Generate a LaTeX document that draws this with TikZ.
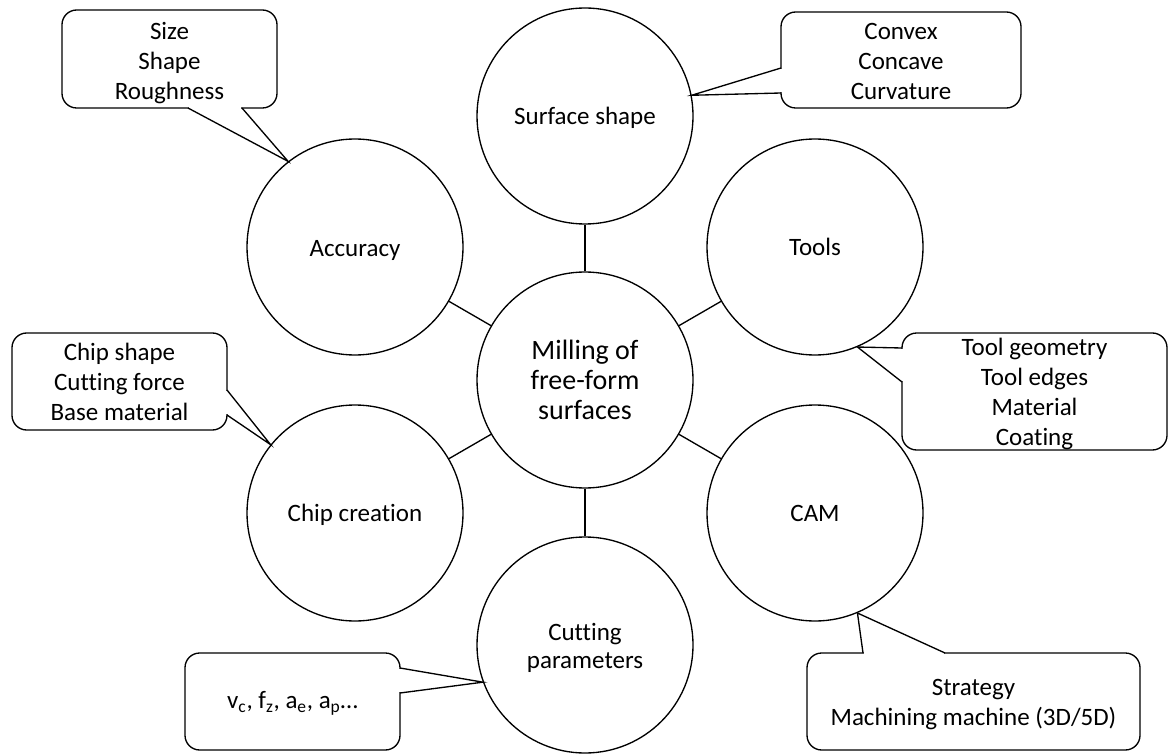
\documentclass[tikz,border=0pt]{standalone}
\usepackage{fontspec}
\setmainfont{Carlito}[Ligatures=NoCommon]
\newcommand\shiftdn[2]{\raisebox{-#1}[\height][\depth]{#2}}
\begin{document}
\begin{tikzpicture}[x=0.75pt,y=-0.75pt,
  bubble/.style={circle,draw=black,fill=white,line width=1pt,minimum size=162pt,inner sep=0pt,align=center,
    font=\fontsize{18.75}{22.5}\selectfont},
  note/.style={draw=black,fill=white,line width=1pt,rounded corners=11pt,inner sep=0pt,align=center,
    font=\fontsize{18.75}{22.5}\selectfont},
  link/.style={line width=1pt,draw=black},
  tail/.style={line width=1pt,draw=black,line join=miter}]
\useasboundingbox (0,0) rectangle (1169,755);

% circles
\node[bubble] (surf)  at (585,116) {\shiftdn{1.5pt}{Surface shape}};
\node[bubble] (acc)   at (355,247) {\shiftdn{2.25pt}{Accuracy}};
\node[bubble] (tools) at (815,247) {Tools};
\node[bubble,font=\fontsize{21}{22.5}\selectfont] (mid) at (585,380) {Milling of\\free-form\\surfaces};
\node[bubble] (chip)  at (355,513) {\shiftdn{1.5pt}{Chip creation}};
\node[bubble] (cam)   at (815,513) {CAM};
\node[bubble,font=\fontsize{18.75}{21}\selectfont] (cut) at (585,645) {\shiftdn{2.25pt}{Cutting}\\\shiftdn{2.25pt}{parameters}};

% connectors
\draw[link] (mid) -- (surf);
\draw[link] (mid) -- (acc);
\draw[link] (mid) -- (tools);
\draw[link] (mid) -- (chip);
\draw[link] (mid) -- (cam);
\draw[link] (mid) -- (cut);

% callout 1: accuracy
\node[note,minimum width=161.25pt,minimum height=73.5pt] (n1) at (169.5,59) {\shiftdn{3pt}{Size}\\\shiftdn{3pt}{Shape}\\\shiftdn{3pt}{Roughness}};
\coordinate (n1a) at (188,108); \coordinate (n1b) at (242,108);
\fill[white] (189,106) rectangle (241,110);
\draw[tail] (n1a) -- (acc.128) -- (n1b);

% callout 2: surface shape
\node[note,minimum width=180pt,minimum height=72pt] (n2) at (901,60) {\shiftdn{0.75pt}{Convex}\\\shiftdn{0.75pt}{Concave}\\\shiftdn{0.75pt}{Curvature}};
\coordinate (n2a) at (781,68); \coordinate (n2b) at (781,93);
\fill[white] (779,69) rectangle (783,92);
\draw[tail] (n2a) -- (surf.11) -- (n2b);

% callout 3: chip creation
\node[note,minimum width=161.25pt,minimum height=72.75pt] (n3) at (119.5,381.5) {Chip shape\\Cutting force\\Base material};
\coordinate (n3a) at (227,390); \coordinate (n3b) at (227,415);
\fill[white] (225,391) rectangle (229,414);
\draw[tail] (n3a) -- (chip.141) -- (n3b);

% callout 4: tools
\node[note,minimum width=198.75pt,minimum height=87.75pt] (n4) at (1034.5,391.5) {\shiftdn{1.9pt}{Tool geometry}\\\shiftdn{1.9pt}{Tool edges}\\\shiftdn{1.9pt}{Material}\\\shiftdn{1.9pt}{Coating}};
\coordinate (n4a) at (902,348); \coordinate (n4b) at (902,382);
\fill[white] (900,349) rectangle (904,381);
\draw[tail] (n4a) -- (tools.-67) -- (n4b);

% callout 5: cutting parameters
\node[note,minimum width=161.25pt,minimum height=72.75pt] (n5) at (292.5,701.5) {\shiftdn{1.5pt}{v\textsubscript{c}, f\textsubscript{z}, a\textsubscript{e}, a\textsubscript{p}…}};
\coordinate (n5a) at (400,668); \coordinate (n5b) at (400,693);
\fill[white] (398,669) rectangle (402,692);
\draw[tail] (n5a) -- (cut.200) -- (n5b);

% callout 6: CAM
\node[note,minimum width=249.75pt,minimum height=72.75pt] (n6) at (973.5,701.5) {\shiftdn{2.25pt}{Strategy}\\\shiftdn{2.25pt}{Machining machine (3D/5D)}};
\coordinate (n6a) at (863,653); \coordinate (n6b) at (945,653);
\fill[white] (864,651) rectangle (944,655);
\draw[tail] (n6a) -- (cam.-67.6) -- (n6b);
\end{tikzpicture}
\end{document}
